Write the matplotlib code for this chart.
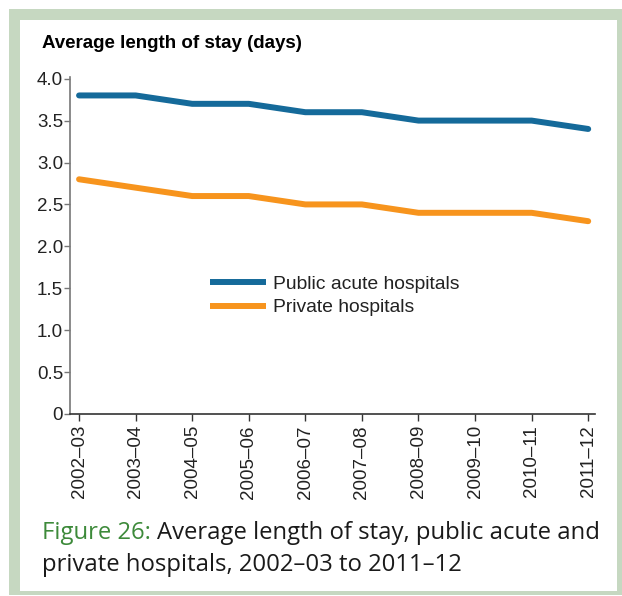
import matplotlib.pyplot as plt
from matplotlib.patches import Rectangle

years = ['2002–03', '2003–04', '2004–05', '2005–06', '2006–07',
         '2007–08', '2008–09', '2009–10', '2010–11', '2011–12']
public_acute = [3.8, 3.8, 3.7, 3.7, 3.6, 3.6, 3.5, 3.5, 3.5, 3.4]
private = [2.8, 2.7, 2.6, 2.6, 2.5, 2.5, 2.4, 2.4, 2.4, 2.3]
yticks = [0, 0.5, 1.0, 1.5, 2.0, 2.5, 3.0, 3.5, 4.0]
ylabels = ['0', '0.5', '1.0', '1.5', '2.0', '2.5', '3.0', '3.5', '4.0']

W, H = 622, 596
fig = plt.figure(figsize=(W/100, H/100), dpi=100)
fig.patch.set_facecolor('white')

# green frame
def px(x, y, w, h):
  return (x/W, 1 - (y+h)/H, w/W, h/H)
x0, y0, w0, h0 = px(9, 9, 613, 586)
fig.patches.append(Rectangle((x0, y0), w0, h0, transform=fig.transFigure,
                             facecolor='#c6d8c1', edgecolor='none', zorder=-2))
x1, y1, w1, h1 = px(20, 20, 597, 571)
fig.patches.append(Rectangle((x1, y1), w1, h1, transform=fig.transFigure,
                             facecolor='white', edgecolor='none', zorder=-1))

ax = fig.add_axes([70/W, 1-414/H, (595-70)/W, (414-77)/H])
ax.set_zorder(2)
ax.patch.set_alpha(0)
xs = list(range(len(years)))
ax.plot(xs, public_acute, color='#156a9a', lw=4.3, solid_capstyle='round',
        label='Public acute hospitals')
ax.plot(xs, private, color='#f7941d', lw=4.3, solid_capstyle='round',
        label='Private hospitals')

fs = 13.5
ax.set_xlim(-0.16, 9.12)
ax.set_ylim(0, 4.02)
ax.set_yticks(yticks)
ax.set_yticklabels(ylabels, fontsize=fs, family='Liberation Sans', color='#222222')
ax.set_xticks(xs)
ax.set_xticklabels(years, rotation=90, fontsize=fs, family='Liberation Sans', color='#222222')
for s in ['top', 'right']:
  ax.spines[s].set_visible(False)
ax.spines['left'].set_color('#777777')
ax.spines['left'].set_linewidth(1.2)
ax.spines['bottom'].set_color('#333333')
ax.spines['bottom'].set_linewidth(1.2)
ax.tick_params(axis='y', length=4, width=1, color='#777777', pad=1)
ax.tick_params(axis='x', length=5, width=1, color='#333333', pad=3)

leg = fig.legend(*ax.get_legend_handles_labels(), loc='center left',
                 bbox_to_anchor=(210/W, 1-296/H),
                 frameon=False, handlelength=2.9, handletextpad=0.37,
                 labelspacing=0.3, borderpad=0, borderaxespad=0,
                 prop={'family': 'Liberation Sans', 'size': 13.9})
leg.set_zorder(3)
for t in leg.get_texts():
  t.set_color('#222222')
for l in leg.get_lines():
  l.set_solid_capstyle('butt')

fig.text(42/W, 1-44/H, 'Average length of stay (days)', fontsize=13.5,
         fontweight='bold', family='Liberation Sans', va='center', ha='left')

cap_size = 17.2
fig.text(42/W, 1-533/H, 'Figure 26:', fontsize=cap_size, family='Open Sans',
         color='#3d8a3a', va='center', ha='left')
t1 = fig.text(0, 0, 'Figure 26: ', fontsize=cap_size, family='Open Sans')
fig.canvas.draw()
bb = t1.get_window_extent()
t1.remove()
fig.text(42/W + bb.width/W, 1-533/H, 'Average length of stay, public acute and',
         fontsize=cap_size, family='Open Sans', color='#1a1a1a', va='center', ha='left')
fig.text(42/W, 1-565/H, 'private hospitals, 2002–03 to 2011–12', fontsize=cap_size,
         family='Open Sans', color='#1a1a1a', va='center', ha='left')

fig.savefig('out.png', dpi=100)
